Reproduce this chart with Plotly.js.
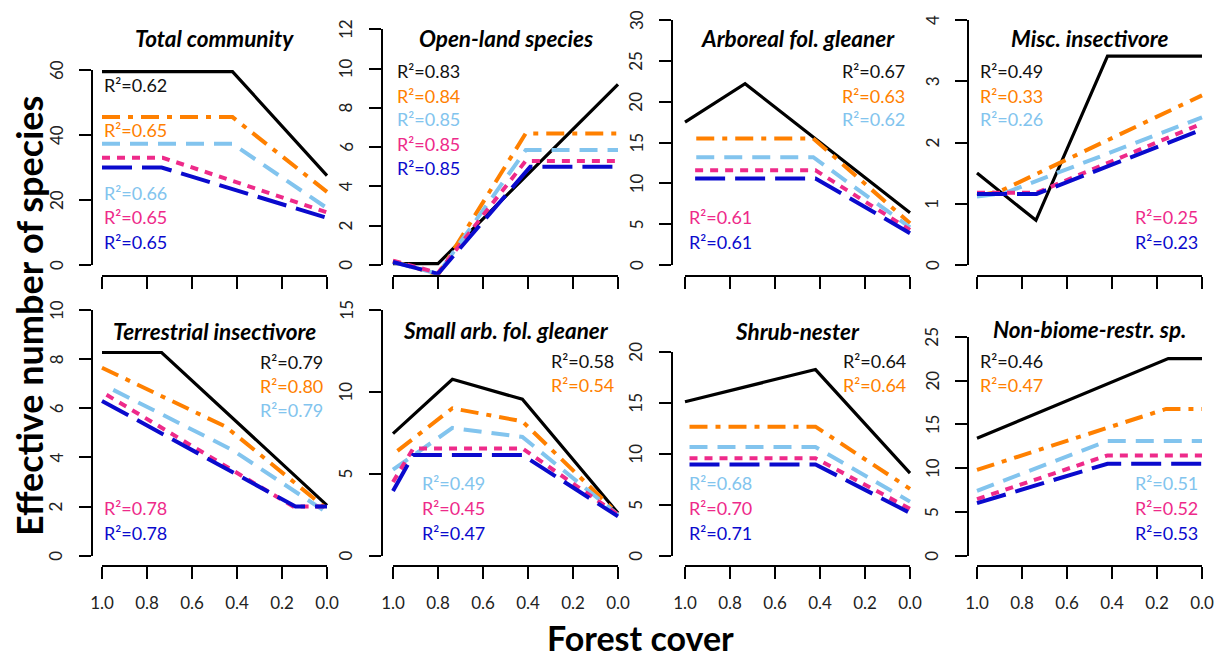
<!DOCTYPE html>
<html>
<head>
<meta charset="utf-8">
<script src="https://cdn.plot.ly/plotly-3.0.1.min.js"></script>
<style>html,body{margin:0;padding:0;background:#fff;}#chart{width:1225px;height:657px;}</style>
</head>
<body>
<div id="chart"></div>
<script>
// ---------------- DATA ----------------
const panelTitles = ["Total community", "Open-land species", "Arboreal fol. gleaner", "Misc. insectivore",
  "Terrestrial insectivore", "Small arb. fol. gleaner", "Shrub-nester", "Non-biome-restr. sp."];
const seriesNames = ["Series 1", "Series 2", "Series 3", "Series 4", "Series 5"];
const xTickVals = [1.0, 0.8, 0.6, 0.4, 0.2, 0.0];
const xTickText = ["1.0", "0.8", "0.6", "0.4", "0.2", "0.0"];
const yTickMax = [60, 12, 30, 4, 10, 15, 20, 25];
const yTickStep = [20, 2, 5, 1, 2, 5, 5, 5];

const totalX = [[1, 0.42, 0], [1, 0.42, 0], [1, 0.42, 0], [1, 0.73, 0], [1, 0.735, 0]];
const totalY = [[59.5, 59.5, 27.5], [45.5, 45.5, 22.5], [37.3, 37.3, 17.5], [33, 33, 16.2], [30, 30, 14.5]];
const totalR2 = ["0.62", "0.65", "0.66", "0.65", "0.65"];

const openX = [[1, 0.8, 0], [1, 0.8, 0.41, 0], [1, 0.8, 0.41, 0], [1, 0.8, 0.41, 0], [1, 0.8, 0.39, 0]];
const openY = [[0.07, 0.07, 9.2], [0.2, -0.5, 6.7, 6.7], [0.15, -0.45, 5.85, 5.85], [0.22, -0.4, 5.3, 5.3], [0.15, -0.45, 5.0, 5.0]];
const openR2 = ["0.83", "0.84", "0.85", "0.85", "0.85"];

const arbX = [[1, 0.733, 0], [0.95, 0.43, 0], [0.95, 0.43, 0], [0.955, 0.42, 0], [0.955, 0.42, 0]];
const arbY = [[17.5, 22.2, 6.4], [15.5, 15.5, 5.1], [13.2, 13.2, 4.6], [11.6, 11.6, 4.3], [10.6, 10.6, 3.9]];
const arbR2 = ["0.67", "0.63", "0.62", "0.61", "0.61"];

const miscX = [[1, 0.738, 0.42, 0], [1, 0.9, 0], [1, 0.88, 0], [1, 0.735, 0], [1, 0.735, 0]];
const miscY = [[1.5, 0.73, 3.41, 3.41], [1.13, 1.2, 2.77], [1.12, 1.17, 2.41], [1.18, 1.18, 2.31], [1.16, 1.16, 2.21]];
const miscR2 = ["0.49", "0.33", "0.26", "0.25", "0.23"];

const terrX = [[1, 0.735, 0], [1, 0.45, 0], [0.95, 0.42, 0], [0.98, 0.15, 0], [1, 0.14, 0]];
const terrY = [[8.27, 8.27, 2.05], [7.65, 5.25, 1.9], [6.75, 4.3, 1.75], [6.55, 2.0, 2.0], [6.3, 2.0, 2.0]];
const terrR2 = ["0.79", "0.80", "0.79", "0.78", "0.78"];

const smallX = [[1, 0.736, 0.425, 0], [0.98, 0.736, 0.425, 0], [1, 0.736, 0.425, 0], [1, 0.91, 0.425, 0], [1, 0.91, 0.425, 0]];
const smallY = [[7.45, 10.77, 9.55, 2.6], [6.4, 9.0, 8.2, 2.55], [5.25, 7.8, 7.25, 2.5], [4.5, 6.55, 6.55, 2.5], [3.95, 6.15, 6.15, 2.4]];
const smallR2 = ["0.58", "0.54", "0.49", "0.45", "0.47"];

const shrubX = [[1, 0.42, 0], [0.98, 0.42, 0], [0.98, 0.42, 0], [0.98, 0.42, 0], [0.98, 0.42, 0]];
const shrubY = [[15.1, 18.25, 8.1], [12.65, 12.65, 6.55], [10.65, 10.65, 5.3], [9.55, 9.55, 4.6], [8.95, 8.95, 4.2]];
const shrubR2 = ["0.64", "0.64", "0.68", "0.70", "0.71"];

const nonX = [[1, 0.15, 0], [1, 0.16, 0], [1, 0.42, 0], [1, 0.42, 0], [1, 0.42, 0]];
const nonY = [[13.4, 22.5, 22.5], [9.8, 16.75, 16.75], [7.4, 13.1, 13.1], [6.45, 11.45, 11.45], [6.0, 10.5, 10.5]];
const nonR2 = ["0.46", "0.47", "0.51", "0.52", "0.53"];

const allX = [totalX, openX, arbX, miscX, terrX, smallX, shrubX, nonX];
const allY = [totalY, openY, arbY, miscY, terrY, smallY, shrubY, nonY];
const allR2 = [totalR2, openR2, arbR2, miscR2, terrR2, smallR2, shrubR2, nonR2];

// ---------------- STYLE / LAYOUT GEOMETRY ----------------
const W = 1225, H = 657;
const fx = p => p / W;
const fy = p => 1 - p / H;
const FONT = "Lato, 'Open Sans', sans-serif";

const colors = ["#000000", "#FF8000", "#82C4EE", "#EE2A8A", "#0A0ACD"];
const widths = [3.2, 4, 4, 4, 4];
const dashes = ["solid", "18px,8px,5px,8px", "18px,10px", "8px,7px", "30px,10px"];

const colYAxisPx = [92, 381.7, 672, 968];
const colX1Px = [102, 393, 685, 977];
const xSpanPx = 225;
const yLabelOffsetPx = 36;
const rowAxisPy = [275.7, 565.5];
const rowTopPy = [12, 302];
const panelY0Py = [265, 265, 265, 265, 555.7, 555.7, 555.7, 555.7];
const panelYTopPy = [70, 29.3, 20, 20, 310, 310, 351.7, 336.7];

const labelSide = [
  ["l","l","l","l","l"], ["l","l","l","l","l"], ["r","r","r","l","l"], ["l","l","l","r","r"],
  ["r","r","r","l","l"], ["r","r","l","l","l"], ["r","r","l","l","l"], ["l","l","r","r","r"]];
const labelPy = [
  [85, 130, 192.7, 217.3, 241.7], [70.7, 95.7, 119.5, 144, 168.3], [70.7, 95.7, 119.5, 217.3, 242.3], [70.7, 95.7, 119.5, 217.3, 242.3],
  [361.7, 385.5, 409.5, 508.3, 533.3], [360.7, 385, 483.3, 508.3, 532.7], [360.7, 385, 483.3, 508.3, 533.3], [360.7, 385, 483.3, 508.3, 533.3]];
const labelLeftPx = [102, 395, 687, 978, 102, 420, 687, 978];
const labelRightPx = [327, 618, 907, 1200, 325, 616, 908, 1200];
const titlePy = [38.3, 38.3, 38.3, 38.3, 331, 330, 331.5, 329];

const traces = [];
const layout = {
  width: W, height: H,
  margin: {l: 0, r: 0, t: 0, b: 0},
  paper_bgcolor: "#ffffff", plot_bgcolor: "rgba(0,0,0,0)",
  showlegend: false,
  font: {family: FONT, color: "#000", size: 17},
  annotations: []
};

for (let p = 0; p < 8; p++) {
  const col = p % 4, row = Math.floor(p / 4);
  const dataIdx = p + 1, dispIdx = p + 9;

  const x1 = colX1Px[col], x0 = x1 + xSpanPx;
  const leftPx = colYAxisPx[col] + 1, rightPx = x0 + 14;
  const xLeftVal = 1 + (x1 - leftPx) / xSpanPx;
  const xRightVal = -(rightPx - x0) / xSpanPx;

  const y0 = panelY0Py[p], yTop = panelYTopPy[p];
  const scale = (y0 - yTop) / yTickMax[p];
  const botPy = rowAxisPy[row] - 1, topPy = rowTopPy[row];
  const yBotVal = (y0 - botPy) / scale;
  const yTopVal = (y0 - topPy) / scale;

  // data axes (hidden)
  layout["xaxis" + dataIdx] = {domain: [fx(leftPx), fx(rightPx)], range: [xLeftVal, xRightVal], visible: false,
    anchor: "y" + dataIdx, fixedrange: true};
  layout["yaxis" + dataIdx] = {domain: [fy(botPy), fy(topPy)], range: [yBotVal, yTopVal], visible: false,
    anchor: "x" + dataIdx, fixedrange: true};

  // display axes (R-style, spanning only the tick range)
  layout["xaxis" + dispIdx] = {domain: [fx(x1), fx(x0)], range: [1, 0], anchor: "free", position: fy(rowAxisPy[row]),
    showline: true, linecolor: "#000", linewidth: 2, ticks: "outside", ticklen: 12, tickwidth: 2, tickcolor: "#000",
    tickvals: xTickVals, ticktext: xTickText, showticklabels: row === 1, ticklabelstandoff: 10,
    tickfont: {family: FONT, size: 17, color: "#222"},
    showgrid: false, zeroline: false, fixedrange: true};
  layout["yaxis" + dispIdx] = {domain: [fy(y0), fy(yTop)], range: [0, yTickMax[p]], anchor: "free", position: fx(colYAxisPx[col]),
    showline: true, linecolor: "#000", linewidth: 2, ticks: "outside", ticklen: 12, tickwidth: 2, tickcolor: "#000",
    tickmode: "linear", tick0: 0, dtick: yTickStep[p], showticklabels: false,
    showgrid: false, zeroline: false, fixedrange: true};

  traces.push({type: "scatter", mode: "lines", x: [], y: [], xaxis: "x" + dispIdx, yaxis: "y" + dispIdx,
    hoverinfo: "skip", showlegend: false});

  // rotated y tick labels, placed on the display axis scale
  for (let v = 0; v <= yTickMax[p] + 1e-9; v += yTickStep[p]) {
    layout.annotations.push({
      xref: "paper", yref: "y" + dispIdx, x: fx(colYAxisPx[col] - yLabelOffsetPx), y: v,
      xanchor: "center", yanchor: "middle", textangle: -90, showarrow: false,
      text: String(v), font: {family: FONT, size: 17, color: "#222"}
    });
  }

  for (let s = 0; s < 5; s++) {
    traces.push({
      type: "scatter", mode: "lines", name: seriesNames[s],
      x: allX[p][s], y: allY[p][s],
      xaxis: "x" + dataIdx, yaxis: "y" + dataIdx,
      line: {color: colors[s], width: widths[s], dash: dashes[s]},
      hoverinfo: "x+y"
    });
    const side = labelSide[p][s];
    layout.annotations.push({
      xref: "paper", yref: "paper",
      x: fx(side === "l" ? labelLeftPx[p] : labelRightPx[p]), y: fy(labelPy[p][s]),
      xanchor: side === "l" ? "left" : "right", yanchor: "middle",
      text: "R\u00B2=" + allR2[p][s], showarrow: false,
      font: {family: FONT, size: 18, color: colors[s] === "#000000" ? "#111" : colors[s]}
    });
  }

  layout.annotations.push({
    xref: "paper", yref: "paper", x: fx((x1 + x0) / 2), y: fy(titlePy[p]),
    xanchor: "center", yanchor: "middle",
    text: "<b><i>" + panelTitles[p] + "</i></b>", showarrow: false,
    font: {family: FONT, size: 22.5, color: "#000"}
  });
}

layout.annotations.push({
  xref: "paper", yref: "paper", x: fx(29), y: fy(316), xanchor: "center", yanchor: "middle",
  text: "<b>Effective number of species</b>", textangle: -90, showarrow: false,
  font: {family: FONT, size: 36, color: "#000"}
});
layout.annotations.push({
  xref: "paper", yref: "paper", x: fx(640), y: fy(637), xanchor: "center", yanchor: "middle",
  text: "<b>Forest cover</b>", showarrow: false,
  font: {family: FONT, size: 34, color: "#000"}
});

Plotly.newPlot("chart", traces, layout, {staticPlot: true, displayModeBar: false});
</script>
</body>
</html>
